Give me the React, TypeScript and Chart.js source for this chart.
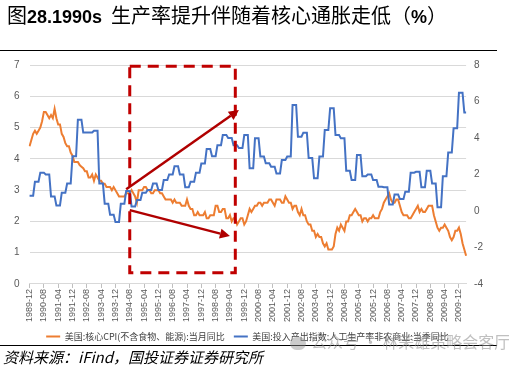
import React, { useEffect, useRef } from 'react';
import { Chart, registerables } from 'chart.js';

Chart.register(...registerables);

// US core CPI YoY (%), monthly, 1989-12 .. 2010-04
const coreCpi: number[] = [
  4.4,
  4.6, 4.8, 4.9, 4.8, 4.9, 5.0, 5.2, 5.5, 5.5, 5.4, 5.3, 5.4,
  5.3, 5.6, 5.3, 5.1, 5.1, 4.8, 4.7, 4.5, 4.4, 4.4, 4.2, 4.1,
  3.9, 3.9, 3.9, 3.8, 3.75, 3.7, 3.6, 3.6, 3.4, 3.4, 3.5, 3.3,
  3.5, 3.4, 3.3, 3.3, 3.2, 3.2, 3.1, 3.1, 3.1, 3.0, 3.1, 3.0,
  2.9, 2.8, 2.8, 2.8, 2.8, 2.9, 2.9, 2.9, 3.0, 2.9, 2.8, 2.6,
  3.0, 3.0, 3.0, 3.1, 3.1, 3.0, 3.0, 2.9, 2.9, 3.0, 3.0, 3.0,
  2.9, 2.9, 2.8, 2.7, 2.7, 2.7, 2.7, 2.6, 2.7, 2.6, 2.6, 2.6,
  2.5, 2.5, 2.5, 2.7, 2.5, 2.4, 2.4, 2.2, 2.2, 2.3, 2.2, 2.2,
  2.2, 2.3, 2.1, 2.1, 2.2, 2.2, 2.2, 2.5, 2.5, 2.3, 2.3, 2.4,
  2.4, 2.1, 2.1, 2.2, 2.0, 2.1, 2.1, 1.9, 2.0, 2.1, 2.1, 1.9,
  2.0, 2.2, 2.4, 2.3, 2.4, 2.5, 2.5, 2.6, 2.6, 2.5, 2.6, 2.6,
  2.6, 2.7, 2.7, 2.6, 2.5, 2.7, 2.7, 2.7, 2.6, 2.6, 2.8, 2.7,
  2.6, 2.6, 2.4, 2.5, 2.5, 2.3, 2.2, 2.4, 2.2, 2.2, 2.0, 1.9,
  1.9, 1.7, 1.7, 1.5, 1.6, 1.5, 1.5, 1.3, 1.2, 1.3, 1.1, 1.1,
  1.1, 1.2, 1.6, 1.8, 1.7, 1.9, 1.8, 1.7, 2.0, 2.0, 2.2, 2.2,
  2.3, 2.4, 2.3, 2.2, 2.2, 2.0, 2.1, 2.1, 2.0, 2.1, 2.1, 2.2,
  2.1, 2.1, 2.1, 2.3, 2.4, 2.6, 2.7, 2.8, 2.9, 2.7, 2.6, 2.6,
  2.7, 2.7, 2.5, 2.3, 2.2, 2.2, 2.2, 2.1, 2.1, 2.2, 2.3, 2.4,
  2.5, 2.3, 2.4, 2.3, 2.3, 2.4, 2.5, 2.5, 2.5, 2.2, 2.0, 1.8,
  1.7, 1.8, 1.8, 1.9, 1.8, 1.7, 1.5, 1.4, 1.5, 1.7, 1.7, 1.8,
  1.6, 1.3, 1.1, 0.9,
];

// US nonfarm business labour productivity YoY (%), quarterly, 1989Q4 .. 2010Q1
const productivityQ: number[] = [
  0.84,
  1.6, 2.1, 2.0, 0.8,
  0.3, 1.0, 1.5, 3.0,
  5.0, 4.3, 4.3, 4.4,
  1.5, 0.4, -0.2, -0.6,
  0.4, 1.1, 0.25, 0.6,
  1.0, 1.15, 1.5, 1.15,
  1.7, 2.0, 2.45, 2.0,
  1.3, 1.6, 2.1, 2.6,
  3.4, 3.0, 3.6, 4.16,
  4.0, 3.6, 3.45, 4.16,
  2.34, 3.98, 2.98, 2.61,
  2.43, 2.06, 2.79, 2.98,
  5.81, 4.07, 4.29, 2.9,
  1.79, 2.98, 4.44, 5.63,
  4.16, 3.98, 2.2, 1.7,
  3.07, 1.9, 2.0, 1.7,
  1.33, 1.3, 0.35, 0.9,
  0.65, 1.06, 2.1, 2.15,
  1.3, 2.2, 1.5, 0.2,
  1.9, 3.2, 4.53, 6.48,
  5.4,
];

const firstYear = 1989;
const firstMonth = 12;
const monthLabels: string[] = coreCpi.map((_, i) => {
  const m = firstMonth - 1 + i;
  const y = firstYear + Math.floor(m / 12);
  return `${y}-${String((m % 12) + 1).padStart(2, '0')}`;
});
// quarterly value held for each month of its quarter
const productivityMonthly: number[] = monthLabels.map((_, i) => productivityQ[Math.floor(i / 3)]);

const labelEvery = 8;
const leftTicks = { min: 0, max: 7, step: 1 };
const rightTicks = { min: -4, max: 8, step: 2 };

const seriesNames = ['美国:核心CPI(不含食物、能源):当月同比', '美国:投入产出指数:人工生产率非农商业:当季同比'];

// highlight annotations, in data units (month label, left-axis value)
const highlightBox = { from: '1994-08', to: '1999-07', low: 0.36, high: 6.96 };
const arrowUp = { from: ['1994-06', 3.03], to: ['1999-09', 5.56] } as const;
const arrowDown = { from: ['1994-08', 2.36], to: ['1999-04', 1.53] } as const;

const annotationPlugin = {
  id: 'highlight',
  afterDatasetsDraw(chart: any) {
    const { ctx, scales } = chart;
    const xs = scales.x;
    const ys = scales.y;
    const px = (lab: string) => xs.getPixelForValue(monthLabels.indexOf(lab));
    const py = (v: number) => ys.getPixelForValue(v);
    ctx.save();
    ctx.strokeStyle = '#C00000';
    ctx.lineWidth = 3;
    ctx.setLineDash([11, 7]);
    const x1 = px(highlightBox.from), x2 = px(highlightBox.to);
    const y1 = py(highlightBox.high), y2 = py(highlightBox.low);
    ctx.strokeRect(x1, y1, x2 - x1, y2 - y1);
    ctx.setLineDash([]);
    const drawArrow = (a: any) => {
      const sx = px(a.from[0]), sy = py(a.from[1]);
      const ex = px(a.to[0]), ey = py(a.to[1]);
      const ang = Math.atan2(ey - sy, ex - sx);
      const headLen = 10, headW = 5;
      const bx = ex - headLen * Math.cos(ang), by = ey - headLen * Math.sin(ang);
      ctx.strokeStyle = '#B00000';
      ctx.fillStyle = '#B00000';
      ctx.lineWidth = 2.5;
      ctx.beginPath();
      ctx.moveTo(sx, sy);
      ctx.lineTo(bx, by);
      ctx.stroke();
      ctx.beginPath();
      ctx.moveTo(ex, ey);
      ctx.lineTo(bx + headW * Math.sin(ang), by - headW * Math.cos(ang));
      ctx.lineTo(bx - headW * Math.sin(ang), by + headW * Math.cos(ang));
      ctx.closePath();
      ctx.fill();
    };
    drawArrow(arrowUp);
    drawArrow(arrowDown);
    ctx.restore();
  },
};

const tickFont = { family: '"Liberation Sans", Arial, sans-serif', size: 10 };

export default function App() {
  const ref = useRef<HTMLCanvasElement>(null);
  useEffect(() => {
    document.body.style.margin = '0';
    const chart = new Chart(ref.current as HTMLCanvasElement, {
      type: 'line',
      data: {
        labels: monthLabels,
        datasets: [
          {
            label: seriesNames[0],
            data: coreCpi,
            borderColor: '#ED7D31',
            backgroundColor: '#ED7D31',
            borderWidth: 2,
            pointRadius: 0,
            tension: 0,
            yAxisID: 'y',
            order: 1,
          },
          {
            label: seriesNames[1],
            data: productivityMonthly,
            borderColor: '#4472C4',
            backgroundColor: '#4472C4',
            borderWidth: 2,
            pointRadius: 0,
            tension: 0,
            yAxisID: 'y1',
            order: 0,
          },
        ],
      },
      options: {
        responsive: false,
        animation: false,
        layout: { padding: { left: 4, right: 18, top: 65, bottom: 18 } },
        scales: {
          x: {
            offset: false,
            grid: {
              display: true,
              drawOnChartArea: false,
              drawTicks: true,
              tickLength: 4,
              color: (c: any) => (c.index % labelEvery === 0 ? '#BFBFBF' : 'rgba(0,0,0,0)'),
            },
            border: { display: true, color: '#D9D9D9' },
            ticks: {
              autoSkip: false,
              maxRotation: 90,
              minRotation: 90,
              padding: 1,
              color: '#595959',
              font: { ...tickFont, size: 9 },
              callback: function (this: any, value: any, index: number) {
                return index % labelEvery === 0 ? this.getLabelForValue(value) : '';
              },
            },
          },
          y: {
            position: 'left',
            min: leftTicks.min,
            max: leftTicks.max,
            grid: { color: '#D9D9D9', drawTicks: false },
            border: { display: false },
            ticks: { stepSize: leftTicks.step, padding: 10, color: '#595959', font: tickFont },
          },
          y1: {
            position: 'right',
            min: rightTicks.min,
            max: rightTicks.max,
            grid: { drawOnChartArea: false, drawTicks: false },
            border: { display: false },
            ticks: { stepSize: rightTicks.step, padding: 8, color: '#595959', font: tickFont },
          },
        },
        plugins: {
          legend: {
            position: 'bottom',
            labels: {
              usePointStyle: true,
              pointStyle: 'line',
              pointStyleWidth: 14,
              padding: 9,
              color: '#404040',
              font: { family: '"Noto Sans CJK SC", sans-serif', size: 9 },
              sort: (a: any, b: any) => a.datasetIndex - b.datasetIndex,
            },
          },
          tooltip: { enabled: false },
        },
      },
      plugins: [annotationPlugin],
    } as any);
    return () => chart.destroy();
  }, []);

  return (
    <div style={{ position: 'fixed', left: 0, top: 0, width: 509, height: 369, background: '#fff', overflow: 'hidden' }}>
      <canvas ref={ref} width={509} height={369} style={{ position: 'absolute', left: 0, top: 0 }} />
      <div
        style={{
          position: 'absolute', left: 7, top: 2, whiteSpace: 'nowrap', color: '#000',
          fontFamily: '"Noto Sans CJK SC", sans-serif', fontSize: 20, lineHeight: '26px',
        }}
      >
        图<span style={{ fontFamily: '"Liberation Sans", Arial, sans-serif', fontWeight: 700, fontSize: 18 }}>28.1990s</span>
        <span style={{ marginLeft: 9 }}>生产率提升伴随着核心通胀走低（</span>
        <span style={{ fontFamily: '"Liberation Sans", Arial, sans-serif', fontWeight: 700, fontSize: 18 }}>%</span>
        <span>）</span>
      </div>
      <div style={{ position: 'absolute', left: 0, top: 50, width: 497, height: 1, background: '#000' }} />
      <div style={{ position: 'absolute', left: 0, top: 345, width: 497, height: 1, background: '#000' }} />
      <div
        style={{
          position: 'absolute', left: 3, top: 348, whiteSpace: 'nowrap', color: '#000',
          fontFamily: '"Noto Sans CJK SC", sans-serif', fontSize: 15, fontStyle: 'italic', lineHeight: '18px',
        }}
      >
        资料来源：iFind，国投证券证券研究所
      </div>
      <div
        style={{
          position: 'absolute', left: 290, top: 332, whiteSpace: 'nowrap', color: 'rgba(140,140,140,0.55)',
          fontFamily: '"Noto Sans CJK SC", sans-serif', fontSize: 16, lineHeight: '18px',
        }}
      >
        <span style={{ display: 'inline-block', width: 16, height: 13, borderRadius: 7, background: 'rgba(140,140,140,0.45)', marginRight: 5, verticalAlign: 'middle' }} />
        公众号 · 林荣雄策略会客厅
      </div>
    </div>
  );
}
